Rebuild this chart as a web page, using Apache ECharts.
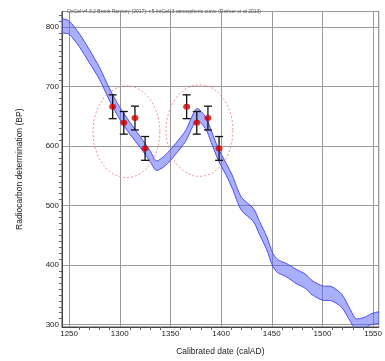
<!DOCTYPE html>
<html>
<head>
<meta charset="utf-8">
<script src="https://cdn.jsdelivr.net/npm/echarts@6/dist/echarts.min.js"></script>
<style>
  html, body { margin: 0; padding: 0; background: #fff; }
  #chart { width: 385px; height: 361px; }
</style>
</head>
<body>
<div id="chart"></div>
<script>
// IntCal13 curve (calAD, BP centre, 1 sigma)
var calYears = [1243, 1250, 1260, 1270, 1280, 1290, 1300, 1310, 1320, 1330, 1336, 1345, 1355, 1365, 1376,
  1385, 1390, 1397, 1405, 1411, 1420, 1432, 1438, 1445, 1451, 1456, 1464, 1474, 1483, 1490, 1500,
  1509, 1519, 1527, 1533, 1541, 1548, 1556]
var calBP = [802, 799, 778, 751, 722, 686, 655, 630, 607, 583, 567, 576, 595, 617, 653,
  638, 617, 587, 561, 540, 503, 484, 462, 437, 409, 398, 392, 381, 373, 362, 353,
  352, 340, 317, 301, 303, 309, 312]
var calSigma = [11, 11, 11, 11, 10, 10, 10, 10, 9, 9, 8, 9, 9, 9, 10,
  10, 10, 10, 10, 11, 11, 11, 11, 11, 11, 11, 11, 12, 12, 12, 12,
  12, 11, 10, 9, 9, 9, 9]

// the measurements (red dots with error bars)
var sampleYears = [1293, 1304, 1315, 1325, 1366, 1376, 1387, 1398]
var sampleBP = [666, 639, 647, 596, 666, 639, 647, 596]
var sampleErr = [20, 19, 20, 20, 20, 19, 20, 20]

// dotted ellipses
var ellipseYear = [1306.6, 1378.7]
var ellipseBP = [624, 626]
var ellipseRadYear = [33, 33]
var ellipseRadBP = [77, 77]

var chart = echarts.init(document.getElementById('chart'))

function renderBand(params, api) {
  if (params.dataIndex !== 0) {
    return null
  }
  var upper = []
  var lower = []
  for (var i = 0; i < calYears.length; i++) {
    upper.push(api.coord([calYears[i], calBP[i] + calSigma[i]]))
    lower.push(api.coord([calYears[i], calBP[i] - calSigma[i]]))
  }
  return {
    type: 'polygon',
    shape: { points: upper.concat(lower.reverse()), smooth: 0.25 },
    style: {
      fill: 'rgba(85,95,250,0.5)',
      stroke: '#4c4cf5',
      lineWidth: 1
    }
  }
}

function renderEllipse(params, api) {
  var c = api.coord([api.value(0), api.value(1)])
  var rx = api.size([api.value(2), 0])[0]
  var ry = api.size([0, api.value(3)])[1]
  var pts = []
  for (var k = 0; k < 90; k++) {
    var a = k / 90 * Math.PI * 2
    pts.push([c[0] + rx * Math.cos(a), c[1] + ry * Math.sin(a)])
  }
  return {
    type: 'polygon',
    shape: { points: pts },
    style: {
      fill: 'none',
      stroke: '#ee7777',
      lineWidth: 0.8,
      lineDash: [2, 2]
    }
  }
}

function renderErrorBar(params, api) {
  var top = api.coord([api.value(0), api.value(2)])
  var bot = api.coord([api.value(0), api.value(3)])
  var hw = 4
  var st = { stroke: '#111', lineWidth: 1.3 }
  return {
    type: 'group',
    children: [
      { type: 'line', shape: { x1: top[0], y1: top[1], x2: bot[0], y2: bot[1] }, style: st },
      { type: 'line', shape: { x1: top[0] - hw, y1: top[1], x2: top[0] + hw, y2: top[1] }, style: st },
      { type: 'line', shape: { x1: bot[0] - hw, y1: bot[1], x2: bot[0] + hw, y2: bot[1] }, style: st }
    ]
  }
}

var labelStyle = {
  color: '#222',
  fontSize: 8,
  fontFamily: 'Liberation Sans',
  formatter: function(v) { return String(v) }
}

chart.setOption({
  animation: false,
  title: {
    text: 'OxCal v4.3.2 Bronk Ramsey (2017); r:5 IntCal13 atmospheric curve (Reimer et al 2013)',
    left: 62,
    top: 4,
    textStyle: { fontSize: 5, fontWeight: 'normal', color: '#555', fontFamily: 'Liberation Sans' }
  },
  grid: {
    left: 62,
    right: 1,
    top: 11.5,
    bottom: 30.5,
    show: true,
    borderColor: '#444',
    borderWidth: 1
  },
  xAxis: {
    type: 'value',
    min: 1243,
    max: 1555.5,
    splitNumber: 6,
    name: 'Calibrated date (calAD)',
    nameLocation: 'middle',
    nameGap: 20,
    nameTextStyle: { color: '#222', fontSize: 8.5, fontFamily: 'Liberation Sans' },
    axisLine: { lineStyle: { color: '#444' } },
    axisTick: { show: false },
    minorTick: { show: true, splitNumber: 5, length: 3, lineStyle: { color: '#666' } },
    axisLabel: Object.assign({ margin: 3, showMinLabel: false, showMaxLabel: false }, labelStyle),
    splitLine: { show: true, lineStyle: { color: '#999', width: 1 } }
  },
  yAxis: {
    type: 'value',
    min: 296,
    max: 826,
    splitNumber: 5,
    name: 'Radiocarbon determination (BP)',
    nameLocation: 'middle',
    nameGap: 38,
    nameTextStyle: { color: '#222', fontSize: 8.5, fontFamily: 'Liberation Sans' },
    axisLine: { lineStyle: { color: '#444' } },
    axisTick: { show: false },
    minorTick: { show: true, splitNumber: 10, length: 3, lineStyle: { color: '#666' } },
    axisLabel: Object.assign({ margin: 3, showMinLabel: false, showMaxLabel: false }, labelStyle),
    splitLine: { show: true, lineStyle: { color: '#999', width: 1 } }
  },
  series: [
    {
      type: 'custom',
      name: 'IntCal13',
      renderItem: renderBand,
      clip: true,
      data: calYears.map(function(y, i) { return [y, calBP[i]] }),
      z: 2
    },
    {
      type: 'custom',
      name: 'ellipses',
      renderItem: renderEllipse,
      data: ellipseYear.map(function(y, i) { return [y, ellipseBP[i], ellipseRadYear[i], ellipseRadBP[i]] }),
      z: 3
    },
    {
      type: 'custom',
      name: 'errors',
      renderItem: renderErrorBar,
      data: sampleYears.map(function(y, i) { return [y, sampleBP[i], sampleBP[i] + sampleErr[i], sampleBP[i] - sampleErr[i]] }),
      z: 4
    },
    {
      type: 'scatter',
      name: 'samples',
      symbol: 'circle',
      symbolSize: [7, 6],
      itemStyle: { color: '#d40000' },
      data: sampleYears.map(function(y, i) { return [y, sampleBP[i]] }),
      z: 5
    }
  ]
})
</script>
</body>
</html>
